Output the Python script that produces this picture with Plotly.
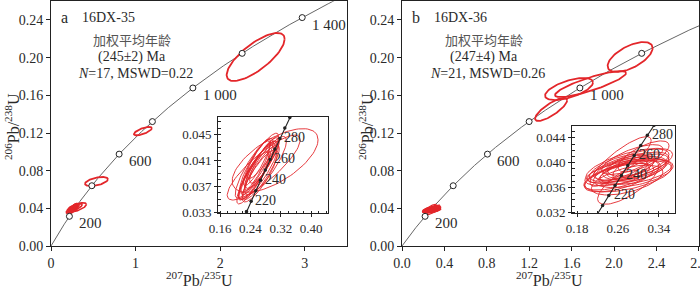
import numpy as np
import plotly.graph_objects as go

W, H = 700, 288

# ---------------- data ----------------
L235 = 9.8485e-10   # decay constants (1/yr)
L238 = 1.55125e-10

main_ages = [200, 400, 600, 800, 1000, 1200, 1400]
a_labels = {200: "200", 600: "600", 1000: "1 000", 1400: "1 400"}
b_labels = {200: "200", 600: "600", 1000: "1 000"}
inset_ages = [200, 210, 220, 230, 240, 250, 260, 270, 280, 290, 300]
inset_label_ages = [220, 240, 260, 280]

# ellipses: centre x (207Pb/235U), centre y (206Pb/238U), half-width x, half-height y, correlation
a_big_cx = [2.42, 1.087, 0.538]
a_big_cy = [0.2007, 0.122, 0.0685]
a_big_ax = [0.343, 0.106, 0.136]
a_big_by = [0.0255, 0.0045, 0.0048]
a_big_r = [0.75, 0.7, 0.5]

a_cx = [0.260, 0.266, 0.255, 0.272, 0.250, 0.262, 0.276, 0.252, 0.268, 0.246, 0.280, 0.257, 0.264, 0.272, 0.250, 0.305, 0.275]
a_cy = [0.0397, 0.0402, 0.0392, 0.0407, 0.0387, 0.0395, 0.0410, 0.0400, 0.0392, 0.0383, 0.0402, 0.0407, 0.0386, 0.0417, 0.0398, 0.0410, 0.0399]
a_ax = [0.045, 0.042, 0.046, 0.045, 0.042, 0.052, 0.038, 0.040, 0.048, 0.042, 0.055, 0.036, 0.046, 0.042, 0.050, 0.113, 0.096]
a_by = [0.0040, 0.0038, 0.0042, 0.0040, 0.0038, 0.0045, 0.0035, 0.0040, 0.0042, 0.0040, 0.0045, 0.0036, 0.0040, 0.0035, 0.0046, 0.0049, 0.0050]
a_r = [0.88, 0.87, 0.86, 0.88, 0.87, 0.85, 0.85, 0.86, 0.87, 0.86, 0.85, 0.88, 0.84, 0.86, 0.87, 0.65, 0.85]

b_big_cx = [2.151, 1.778, 1.575, 1.406]
b_big_cy = [0.2007, 0.172, 0.1667, 0.145]
b_big_ax = [0.212, 0.335, 0.226, 0.151]
b_big_by = [0.0159, 0.0138, 0.0117, 0.0122]
b_big_r = [0.6, 0.85, 0.6, 0.8]

b_cx = [0.275, 0.285, 0.268, 0.295, 0.280, 0.272, 0.290, 0.265, 0.300, 0.278, 0.282, 0.262, 0.288, 0.272, 0.295, 0.265, 0.280, 0.310, 0.278, 0.305, 0.262]
b_cy = [0.0385, 0.0390, 0.0380, 0.0395, 0.0378, 0.0392, 0.0383, 0.0388, 0.0400, 0.0372, 0.0395, 0.0376, 0.0405, 0.0382, 0.0385, 0.0402, 0.0368, 0.0410, 0.0390, 0.0392, 0.0392]
b_ax = [0.080, 0.070, 0.075, 0.065, 0.085, 0.060, 0.078, 0.065, 0.060, 0.070, 0.085, 0.068, 0.060, 0.050, 0.070, 0.060, 0.060, 0.050, 0.040, 0.055, 0.058]
b_by = [0.0022, 0.0020, 0.0024, 0.0022, 0.0025, 0.0020, 0.0023, 0.0021, 0.0022, 0.0024, 0.0028, 0.0023, 0.0024, 0.0017, 0.0020, 0.0040, 0.0035, 0.0025, 0.0015, 0.0022, 0.0022]
b_r = [0.6, 0.55, 0.65, 0.6, 0.55, 0.6, 0.5, 0.65, 0.6, 0.55, 0.65, 0.6, 0.7, 0.55, 0.5, 0.85, 0.75, 0.7, 0.5, 0.55, 0.65]

main_yticks = [0.00, 0.04, 0.08, 0.12, 0.16, 0.20, 0.24]
a_xticks = [0, 1, 2, 3]
b_xticks = [0.0, 0.4, 0.8, 1.2, 1.6, 2.0, 2.4, 2.8]
ia_xticks = [0.16, 0.24, 0.32, 0.40]
ia_yticks = [0.033, 0.037, 0.041, 0.045]
ib_xticks = [0.18, 0.26, 0.34]
ib_yticks = [0.032, 0.036, 0.040, 0.044]

a_text = ["a", "16DX-35", "加权平均年龄", "(245±2) Ma", "<i>N</i>=17, MSWD=0.22"]
b_text = ["b", "16DX-36", "加权平均年龄", "(247±4) Ma", "<i>N</i>=21, MSWD=0.26"]

# ---------------- helpers ----------------
def conc(t_ma):
    t = np.asarray(t_ma, float) * 1e6
    return np.expm1(L235 * t), np.expm1(L238 * t)

def ellipses(cx, cy, ax, by, r):
    th = np.linspace(0, 2 * np.pi, 90)
    xs, ys = [], []
    for x0, y0, a, b, rr in zip(cx, cy, ax, by, r):
        xs += list(x0 + a * np.cos(th)) + [None]
        ys += list(y0 + b * (rr * np.cos(th) + np.sqrt(1 - rr * rr) * np.sin(th))) + [None]
    return xs, ys

def px(x):
    return x / W

def py(y):
    return 1 - y / H

RED = "#e3262a"
SERIF = "Liberation Serif, Times New Roman, serif"
CJK = "Noto Sans CJK SC"
TXT = "#2a2a2a"

fig = go.Figure()

# main concordia curves
tline = np.linspace(0, 1500, 600)
cx_line, cy_line = conc(tline)
for xa, ya in [("x", "y"), ("x2", "y2")]:
    fig.add_trace(go.Scatter(x=cx_line, y=cy_line, mode="lines", line=dict(color="#555", width=0.9),
                             xaxis=xa, yaxis=ya, hoverinfo="skip"))

# main ellipses
ex, ey = ellipses(a_big_cx, a_big_cy, a_big_ax, a_big_by, a_big_r)
fig.add_trace(go.Scatter(x=ex, y=ey, mode="lines", line=dict(color=RED, width=1.8), xaxis="x", yaxis="y"))
ex, ey = ellipses(a_cx, a_cy, a_ax, a_by, a_r)
fig.add_trace(go.Scatter(x=ex, y=ey, mode="lines", line=dict(color=RED, width=1.6), xaxis="x", yaxis="y"))
ex, ey = ellipses(b_big_cx, b_big_cy, b_big_ax, b_big_by, b_big_r)
fig.add_trace(go.Scatter(x=ex, y=ey, mode="lines", line=dict(color=RED, width=1.8), xaxis="x2", yaxis="y2"))
ex, ey = ellipses(b_cx, b_cy, b_ax, b_by, b_r)
fig.add_trace(go.Scatter(x=ex, y=ey, mode="lines", line=dict(color=RED, width=1.2), xaxis="x2", yaxis="y2"))

# concordia age circles
mx, my = conc(main_ages)
for xa, ya in [("x", "y"), ("x2", "y2")]:
    fig.add_trace(go.Scatter(x=mx, y=my, mode="markers",
                             marker=dict(symbol="circle", size=6, color="white", line=dict(color="#222", width=1)),
                             xaxis=xa, yaxis=ya, cliponaxis=True))

# insets
ix, iy = conc(np.linspace(180, 320, 200))
dx, dy = conc(inset_ages)
for xa, ya, cxl, cyl, axl, byl, rl in [("x3", "y3", a_cx, a_cy, a_ax, a_by, a_r),
                                       ("x4", "y4", b_cx, b_cy, b_ax, b_by, b_r)]:
    ex, ey = ellipses(cxl, cyl, axl, byl, rl)
    fig.add_trace(go.Scatter(x=ex, y=ey, mode="lines", line=dict(color=RED, width=0.9), xaxis=xa, yaxis=ya))
    fig.add_trace(go.Scatter(x=ix, y=iy, mode="lines", line=dict(color="#222", width=1.1), xaxis=xa, yaxis=ya))
    fig.add_trace(go.Scatter(x=dx, y=dy, mode="markers", marker=dict(size=3.5, color="#222"), xaxis=xa, yaxis=ya))

# ---------------- axes ----------------
ybot, ytop = 246, 1.16
base = dict(showline=True, linecolor="#222", linewidth=1, mirror=True, ticks="outside", ticklen=4,
            tickcolor="#222", showgrid=False, zeroline=False, automargin=False,
            ticklabeloverflow="allow",
            tickfont=dict(family=SERIF, size=14, color=TXT))
main_y = dict(base, range=[0, 0.26], tickvals=main_yticks, tickformat=".2f",
              domain=[py(ybot), py(ytop)])
fig.update_layout(
    xaxis=dict(base, range=[0, 3.5], tickvals=a_xticks, domain=[px(51), px(347)], anchor="y"),
    yaxis=dict(main_y, anchor="x"),
    xaxis2=dict(base, range=[0, 2.8005], tickvals=b_xticks, tickformat=".1f", domain=[px(402), px(699)], anchor="y2"),
    yaxis2=dict(main_y, anchor="x2"),
)
ins = dict(base, ticklen=3, tickfont=dict(family=SERIF, size=13, color=TXT),
           minor=dict(ticks="inside", ticklen=2.5, tickcolor="#222"))
fig.update_layout(
    xaxis3=dict(ins, range=[0.1547, 0.4442], tickvals=ia_xticks, tickformat=".2f",
                domain=[px(218), px(328)], anchor="y3", minor=dict(ins["minor"], dtick=0.02, tick0=0)),
    yaxis3=dict(ins, range=[0.0329, 0.0477], tickvals=ia_yticks, tickformat=".3f",
                domain=[py(213), py(117)], anchor="x3", minor=dict(ins["minor"], dtick=0.001, tick0=0)),
    xaxis4=dict(ins, range=[0.1698, 0.3718], tickvals=ib_xticks, tickformat=".2f",
                domain=[px(572), px(675)], anchor="y4", minor=dict(ins["minor"], dtick=0.02, tick0=0)),
    yaxis4=dict(ins, range=[0.0319, 0.0459], tickvals=ib_yticks, tickformat=".3f",
                domain=[py(213), py(126)], anchor="x4", minor=dict(ins["minor"], dtick=0.001, tick0=0)),
)

# ---------------- annotations ----------------
ann = []

def txt(x, y, s, size=13, family=SERIF, color=TXT, xanchor="center", angle=0):
    ann.append(dict(x=px(x), y=py(y), xref="paper", yref="paper", text=s, showarrow=False,
                    xanchor=xanchor, yanchor="middle", textangle=angle,
                    font=dict(family=family, size=size, color=color)))

for (ox, tl) in [(0, a_text), (352, b_text)]:
    txt(64 + ox, 17, tl[0], size=16)
    txt(80 + ox, 17, tl[1], size=14, xanchor="left")
    txt(132 + ox, 40, tl[2], size=13, family=CJK, color="#555")
    txt(132 + ox, 57, tl[3], size=14)
    txt(135 + ox, 73, tl[4], size=14)

# age labels on main concordia
for xa, ya, labs in [("x", "y", a_labels), ("x2", "y2", b_labels)]:
    for age, s in labs.items():
        X, Y = conc([age])
        ann.append(dict(x=X[0], y=Y[0], xref=xa, yref=ya, text=s, showarrow=False, xanchor="left",
                        yanchor="middle", xshift=8, yshift=-7, font=dict(family=SERIF, size=15, color=TXT)))
# inset labels
for xa, ya, sh in [("x3", "y3", 2), ("x4", "y4", 3)]:
    for age in inset_label_ages:
        X, Y = conc([age])
        ann.append(dict(x=X[0], y=Y[0], xref=xa, yref=ya, text=str(age), showarrow=False, xanchor="left",
                        yanchor="middle", xshift=sh, yshift=1, font=dict(family=SERIF, size=14, color=TXT)))

ytitle = "<sup>206</sup>Pb/<sup>238</sup>U"
xtitle = "<sup>207</sup>Pb/<sup>235</sup>U"
txt(12, 127, ytitle, size=16, angle=-90)
txt(366, 127, ytitle, size=16, angle=-90)
txt(199, 279, xtitle, size=16)
txt(549, 279, xtitle, size=16)

fig.update_layout(width=W, height=H, margin=dict(l=0, r=0, t=0, b=0), showlegend=False,
                  paper_bgcolor="white", plot_bgcolor="white", annotations=ann)
fig.write_html("out.html", config={"displayModeBar": False},
               post_script="document.body.style.margin='0';document.body.style.padding='0';"
                           "document.body.style.overflow='hidden';")
